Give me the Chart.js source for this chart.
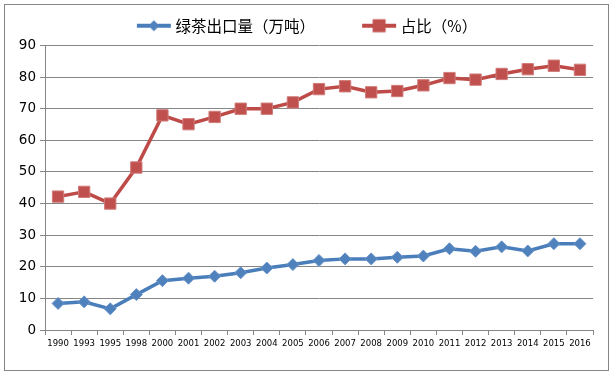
<!DOCTYPE html>
<html>
<head>
<meta charset="utf-8">
<script src="https://cdn.jsdelivr.net/npm/chart.js@4.4.1/dist/chart.umd.min.js"></script>
<style>
  html, body { margin: 0; padding: 0; background: #fff; }
</style>
</head>
<body>
<canvas id="chart" width="612" height="375"></canvas>
<script>
const years = ['1990', '1993', '1995', '1998', '2000', '2001', '2002', '2003', '2004', '2005', '2006',
  '2007', '2008', '2009', '2010', '2011', '2012', '2013', '2014', '2015', '2016'];
const exportVolume = [8.4, 8.9, 6.7, 11.2, 15.6, 16.4, 17.0, 18.1, 19.6, 20.7, 22.0,
  22.5, 22.5, 23.0, 23.4, 25.7, 24.9, 26.3, 25.0, 27.3, 27.3];
const sharePct = [42.2, 43.7, 40.0, 51.4, 67.9, 65.1, 67.4, 70.0, 70.0, 72.0, 76.2,
  77.1, 75.2, 75.6, 77.4, 79.7, 79.2, 81.0, 82.5, 83.6, 82.3];
const seriesNames = ['绿茶出口量（万吨）', '占比（%）'];
const yMin = 0, yMax = 90, yStep = 10;

const gridColor = '#868686';
const legendShift = -9;

// legend icon: line segment with the series marker, drawn to a small canvas
function legendIcon(lineColor, fill, diamond) {
  const c = document.createElement('canvas');
  c.width = 78; c.height = 16;
  const g = c.getContext('2d');
  g.strokeStyle = lineColor;
  g.lineWidth = 4;
  g.beginPath(); g.moveTo(43, 8); g.lineTo(77, 8); g.stroke();
  g.fillStyle = fill;
  g.beginPath();
  if (diamond) {
    g.moveTo(60, 2.5); g.lineTo(65.5, 8); g.lineTo(60, 13.5); g.lineTo(54.5, 8);
  } else {
    g.rect(53.5, 1.5, 13, 13);
  }
  g.closePath();
  g.fill();
  return c;
}
const icons = [legendIcon('#4A7EBB', '#4F81BD', true), legendIcon('#BE4B48', '#C0504D', false)];

const framePlugin = {
  id: 'frame',
  beforeDraw(chart) {
    const ctx = chart.ctx;
    ctx.save();
    ctx.fillStyle = '#fff';
    ctx.fillRect(0, 0, chart.width, chart.height);
    ctx.strokeStyle = gridColor;
    ctx.lineWidth = 1;
    ctx.strokeRect(4.5, 4.5, 604, 366);
    ctx.restore();
  },
  afterLayout(chart) {
    chart.legend.left += legendShift;
    chart.legend.right += legendShift;
    chart.legend.top -= 2;
  }
};

new Chart(document.getElementById('chart').getContext('2d'), {
  type: 'line',
  data: {
    labels: years,
    datasets: [{
      label: seriesNames[0],
      data: exportVolume,
      borderColor: '#4A7EBB',
      borderWidth: 3.5,
      pointStyle: 'rectRot',
      pointRadius: 6,
      pointBackgroundColor: '#4F81BD',
      pointBorderColor: '#6A93C8',
      pointBorderWidth: 1,
      tension: 0
    }, {
      label: seriesNames[1],
      data: sharePct,
      borderColor: '#BE4B48',
      borderWidth: 3.5,
      pointStyle: 'rect',
      pointRadius: 8,
      pointBackgroundColor: '#C0504D',
      pointBorderColor: '#D07B79',
      pointBorderWidth: 1,
      tension: 0
    }]
  },
  options: {
    responsive: false,
    animation: false,
    layout: { padding: { top: 12, right: 19, bottom: 0, left: 0 } },
    scales: {
      x: {
        offset: true,
        grid: { offset: true, drawOnChartArea: false, color: gridColor, tickLength: 5 },
        border: { color: gridColor },
        ticks: {
          color: '#000',
          padding: 4,
          maxRotation: 0,
          autoSkip: false,
          font: { family: 'DejaVu Sans', size: 8.5 }
        },
        afterFit(scale) { scale.height = 45; }
      },
      y: {
        min: yMin,
        max: yMax,
        grid: { color: gridColor, tickLength: 5 },
        border: { color: gridColor },
        ticks: {
          stepSize: yStep,
          color: '#000',
          padding: 4,
          font: { family: 'DejaVu Sans', size: 13.5 }
        },
        afterFit(scale) { scale.width = 45; }
      }
    },
    plugins: {
      legend: {
        position: 'top',
        labels: {
          usePointStyle: true,
          pointStyleWidth: 70,
          padding: 8,
          color: '#000',
          font: { family: 'Noto Sans CJK SC', size: 15.5 },
          generateLabels(chart) {
            const items = Chart.defaults.plugins.legend.labels.generateLabels(chart);
            items.forEach((item, i) => { item.pointStyle = icons[i]; });
            return items;
          }
        }
      },
      tooltip: { enabled: false }
    }
  },
  plugins: [framePlugin]
});
</script>
</body>
</html>
